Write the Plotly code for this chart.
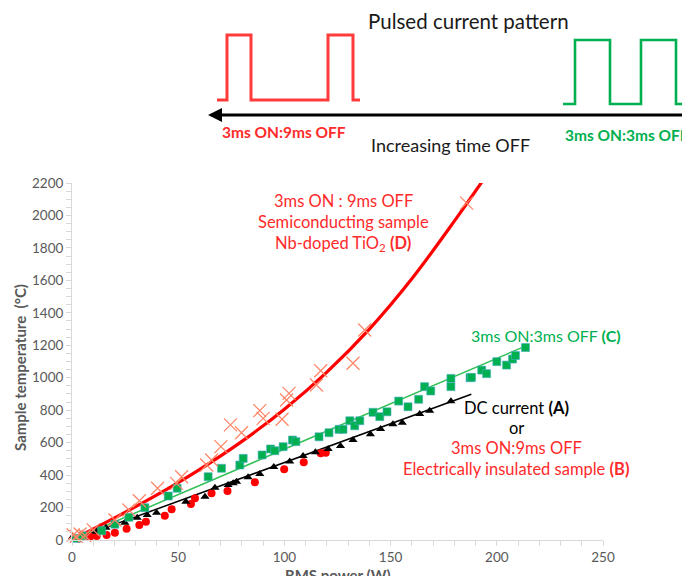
import plotly.graph_objects as go

# ---------------- data ----------------
# (D) 3ms ON : 9ms OFF, semiconducting Nb-doped TiO2  (x markers)
d_power = [0.6, 2.0, 3.8, 6.0, 10.0, 20.2, 26.8, 31.7, 40.3, 49.2, 51.6, 63.4, 65.7, 70.1,
           74.6, 79.8, 88.4, 90.0, 98.9, 101.0, 102.2, 115.1, 117.1, 132.3, 137.8, 185.8]
d_temp = [31, 22, 37, 28, 62, 123, 185, 242, 319, 349, 390, 462, 493, 575,
          709, 661, 797, 750, 744, 863, 904, 955, 1043, 1089, 1294, 2076]
# fitted trend curve for (D)
d_fit_power = [0, 20, 40, 60, 80, 100, 120, 140, 160, 180, 195]
d_fit_temp = [0, 136, 278, 434, 608, 806, 1035, 1300, 1610, 1965, 2245]

# (C) 3ms ON : 3ms OFF  (squares)
c_power = [2.0, 5.0, 14.0, 20.2, 26.8, 34.3, 45.3, 49.5, 64.1, 70.4, 79.0, 80.6, 89.5, 93.5,
           95.5, 99.4, 103.8, 105.4, 116.3, 121.0, 125.7, 127.6, 130.8, 133.1, 135.5, 141.7,
           144.9, 148.3, 153.8, 158.2, 163.2, 166.0, 168.9, 178.4, 178.4, 187.4, 188.1, 192.9,
           195.2, 200.0, 204.6, 207.4, 208.8, 213.5]
c_temp = [10, 25, 57, 97, 140, 199, 271, 319, 390, 442, 462, 503, 524, 561,
          550, 575, 616, 606, 636, 661, 682, 682, 735, 704, 735, 787,
          760, 790, 856, 821, 867, 945, 918, 996, 945, 1000, 1002, 1047,
          1025, 1099, 1078, 1115, 1137, 1186]
c_fit_power = [0, 213.5]
c_fit_temp = [0, 1195]

# (A) DC current  (triangles)
a_power = [0.3, 5.0, 11.6, 16.0, 24.9, 30.7, 35.4, 39.8, 53.6, 62.6, 67.3, 73.5, 75.9, 77.5,
           82.9, 88.4, 95.0, 102.5, 108.8, 114.6, 120.6, 126.4, 132.3, 140.5, 145.3, 151.1,
           155.5, 163.7, 168.4, 178.4]
a_temp = [20, 28, 51, 76, 107, 137, 154, 168, 236, 267, 322, 339, 349, 359,
          386, 407, 450, 484, 518, 540, 561, 579, 616, 651, 684, 713,
          723, 776, 797, 855]
a_fit_power = [0, 188]
a_fit_temp = [0, 898]

# (B) 3ms ON : 9ms OFF, electrically insulated  (circles)
b_power = [3.0, 8.5, 11.6, 16.3, 20.2, 25.7, 31.7, 34.8, 43.7, 46.9, 56.0, 57.9, 65.7, 73.2,
           86.1, 99.9, 109.1, 117.1, 119.5]
b_temp = [10, 20, 25, 31, 45, 70, 92, 113, 150, 189, 222, 257, 288, 302,
          356, 436, 479, 534, 538]

x_ticks = [0, 50, 100, 150, 200, 250]
y_ticks = [0, 200, 400, 600, 800, 1000, 1200, 1400, 1600, 1800, 2000, 2200]

# ---------------- layout helpers (screen pixel -> paper) ----------------
W, H = 690, 576
OFF = 8                       # page body margin of the browser
L, R, T, B = 72, 603, 183, 540  # plot area on screen


def px(x):
    return (x - L) / (R - L)


def py(y):
    return (B - y) / (B - T)


FONT = "Lato, 'Open Sans', sans-serif"
RED_TXT = "#ff2b2b"
GREEN = "#00b050"

fig = go.Figure()

fig.add_trace(go.Scatter(x=d_fit_power, y=d_fit_temp, mode="lines",
                         line=dict(color="#ff0000", width=3.2, shape="spline"),
                         hoverinfo="skip", cliponaxis=True))
fig.add_trace(go.Scatter(x=c_fit_power, y=c_fit_temp, mode="lines", line=dict(color="#2fbf55", width=1.5),
                         hoverinfo="skip"))
fig.add_trace(go.Scatter(x=a_fit_power, y=a_fit_temp, mode="lines", line=dict(color="#000000", width=1.5),
                         hoverinfo="skip"))
fig.add_trace(go.Scatter(x=b_power, y=b_temp, mode="markers",
                         marker=dict(symbol="circle", color="#ff0000", size=8), cliponaxis=False))
fig.add_trace(go.Scatter(x=a_power, y=a_temp, mode="markers",
                         marker=dict(symbol="triangle-up", color="#000000", size=8), cliponaxis=False))
fig.add_trace(go.Scatter(x=c_power, y=c_temp, mode="markers",
                         marker=dict(symbol="square", color=GREEN, size=8,
                                     line=dict(color="#4bacc6", width=0.6)), cliponaxis=False))
fig.add_trace(go.Scatter(x=d_power, y=d_temp, mode="markers",
                         marker=dict(symbol="x-thin-open", color="#ff8466", size=13,
                                     line=dict(color="#ff8466", width=1.2)), cliponaxis=False))

# ---------------- top pulse diagram ----------------
def path(pts):
    return "M " + " L ".join(f"{px(x):.5f},{py(y):.5f}" for x, y in pts)


red_pulse = [(217, 100), (227, 100), (227, 35), (251, 35), (251, 100), (328, 100),
             (328, 35), (353, 35), (353, 100), (360, 100)]
green_pulse = [(563, 104), (575, 104), (575, 40), (610, 40), (610, 104), (641, 104),
               (641, 40), (676, 40), (676, 104), (685, 104)]

shapes = [
    dict(type="path", xref="paper", yref="paper", path=path(red_pulse),
         line=dict(color="#ff3b3b", width=3)),
    dict(type="path", xref="paper", yref="paper", path=path(green_pulse),
         line=dict(color="#00b050", width=2.6)),
]


def txt(x, y, text, size, color, **kw):
    d = dict(xref="paper", yref="paper", x=px(x), y=py(y), text=text, showarrow=False,
             font=dict(family=FONT, size=size, color=color), xanchor="center", yanchor="middle")
    d.update(kw)
    return d


annotations = [
    # arrow
    dict(xref="paper", yref="paper", x=px(208), y=py(115), ax=495, ay=0, axref="pixel", ayref="pixel",
         text="", showarrow=True, arrowhead=2, arrowsize=1.0, arrowwidth=2.8, arrowcolor="#000000"),
    txt(468, 21, "Pulsed current pattern", 20.5, "#1a1a1a"),
    txt(450, 145, "Increasing time OFF", 18, "#1a1a1a"),
    txt(284, 132, "<b>3ms ON:9ms OFF</b>", 15.5, "#ff2b2b"),
    txt(627, 135, "<b>3ms ON:3ms OFF</b>", 15.5, GREEN),
    # chart labels
    txt(343, 201, "3ms ON : 9ms OFF", 16.5, RED_TXT),
    txt(343, 222, "Semiconducting sample", 16.5, RED_TXT),
    txt(343, 243, "Nb-doped TiO<sub>2</sub> <b>(D)</b>", 16.5, RED_TXT),
    txt(546, 335, "3ms ON:3ms OFF <b>(C)</b>", 16, GREEN),
    txt(516, 408, "DC current <b>(A)</b>", 16.5, "#000000"),
    txt(516, 428, "or", 16.5, "#000000"),
    txt(516, 448, "3ms ON:9ms OFF", 16.5, RED_TXT),
    txt(516, 469, "Electrically insulated sample <b>(B)</b>", 16.5, RED_TXT),
    # axis titles
    txt(20, 368, "<b>Sample temperature  (°C)</b>", 15, "#595959", textangle=-90),
    txt(338, 575, "<b>RMS power (W)</b>", 15, "#595959"),
]

axis_common = dict(showgrid=False, zeroline=False, showline=True, linecolor="#d9d9d9", linewidth=1,
                   ticks="outside", ticklen=5, tickcolor="#d9d9d9", tickwidth=1,
                   tickfont=dict(family=FONT, size=13.5, color="#595959"))

fig.update_layout(
    width=W, height=H,
    margin=dict(l=L - OFF, r=W - (R - OFF), t=T - OFF, b=H - (B - OFF), autoexpand=False),
    paper_bgcolor="white", plot_bgcolor="white",
    showlegend=False,
    shapes=shapes,
    annotations=annotations,
    xaxis=dict(range=[0, 250], tickvals=x_ticks, ticktext=[str(v) for v in x_ticks],
               minor=dict(ticks="outside", dtick=10, ticklen=5, tickcolor="#d9d9d9"),
               **axis_common),
    yaxis=dict(range=[0, 2200], tickvals=y_ticks, ticktext=[str(v) for v in y_ticks],
               minor=dict(ticks="outside", dtick=50, ticklen=5, tickcolor="#d9d9d9"),
               **axis_common),
)

fig.write_html("out.html")
